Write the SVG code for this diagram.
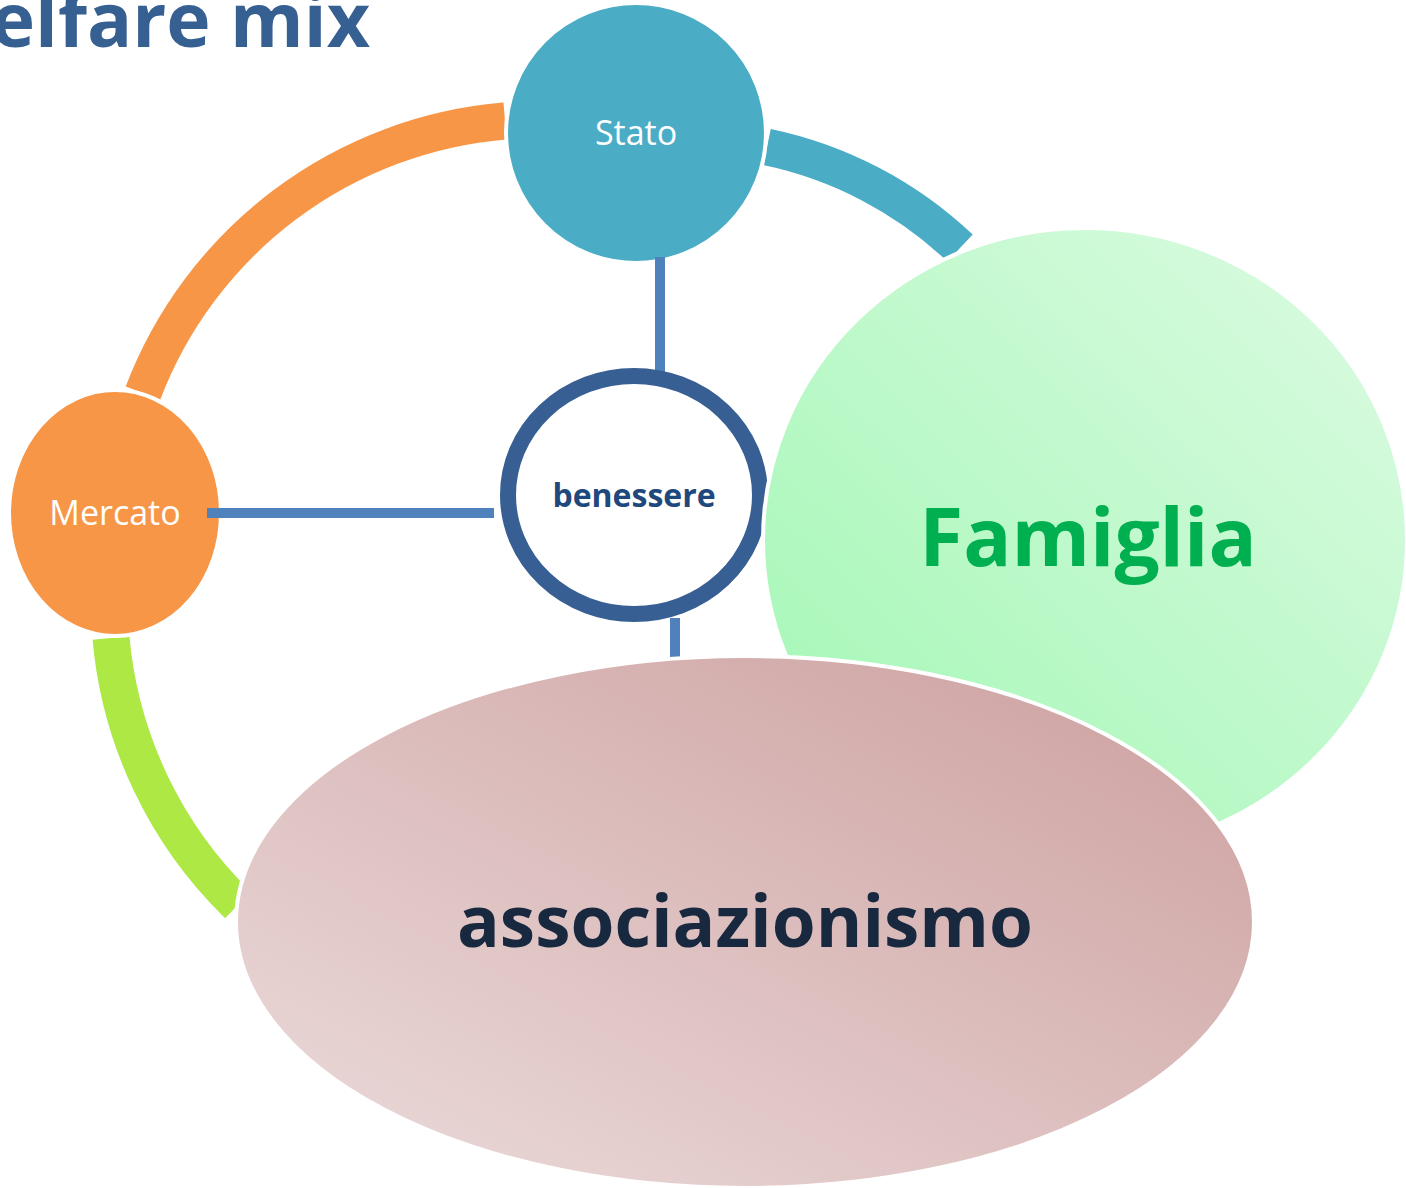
<svg xmlns="http://www.w3.org/2000/svg" width="1406" height="1188" viewBox="0 0 1406 1188">
<style>
.arc{fill:none;stroke-width:37;stroke-linecap:butt}
.conn{fill:none;stroke:#4F81BD;stroke-width:10}
.lbl{font-family:"Open Sans","Liberation Sans",sans-serif;text-anchor:middle}
.node{stroke:#FFFFFF;stroke-width:4}
</style>
<defs>
<linearGradient id="gFam" x1="0" y1="1" x2="1" y2="0">
<stop offset="0" stop-color="#A0F7B3"/>
<stop offset="1" stop-color="#DDFBE3"/>
</linearGradient>
<linearGradient id="gAss" x1="0" y1="1" x2="1" y2="0">
<stop offset="0" stop-color="#ECDCDC"/>
<stop offset="1" stop-color="#CC9F9E"/>
</linearGradient>
</defs>
<rect width="1406" height="1188" fill="#FFFFFF"/>
<text x="370" y="47" font-family="Open Sans, Liberation Sans, sans-serif" font-weight="bold" font-size="75" fill="#376092" text-anchor="end">Welfare mix</text>
<g id="arcs">
<path class="arc" stroke="#F79646" d="M505,121 A425,425 0 0 0 143,393"/>
<path class="arc" stroke="#4BACC6" d="M767,147 A400,400 0 0 1 960,248"/>
<path class="arc" stroke="#AEE845" d="M111,638 A425,425 0 0 0 238,905"/>
</g>
<g id="stato">
<circle class="node" cx="636" cy="133" r="130" fill="#4BACC6"/>
<text class="lbl" x="636" y="145" font-size="34" fill="#FFFFFF">Stato</text>
</g>
<g id="mercato">
<ellipse class="node" cx="115" cy="513" rx="106" ry="123" fill="#F79646"/>
<text class="lbl" x="115" y="525" font-size="34" fill="#FFFFFF">Mercato</text>
</g>
<g id="connectors">
<line class="conn" x1="660" y1="257" x2="660" y2="375"/>
<line class="conn" x1="207" y1="513" x2="494" y2="513"/>
<line class="conn" x1="675" y1="618" x2="675" y2="663"/>
</g>
<g id="benessere">
<ellipse cx="634" cy="495" rx="126" ry="119" fill="#FFFFFF" stroke="#375F93" stroke-width="16"/>
<text class="lbl" x="634" y="507" font-size="32" font-weight="bold" fill="#1F497D">benessere</text>
</g>
<g id="famiglia">
<ellipse class="node" cx="1085" cy="540" rx="322" ry="312" fill="url(#gFam)" stroke-width="6"/>
<text class="lbl" x="1088" y="566" font-size="80" font-weight="bold" fill="#00B050">Famiglia</text>
</g>
<g id="associazionismo">
<ellipse class="node" cx="745" cy="922" rx="509" ry="266" fill="url(#gAss)" stroke-width="6"/>
<text class="lbl" x="745" y="947" font-size="71" font-weight="bold" fill="#17283F">associazionismo</text>
</g>
</svg>
